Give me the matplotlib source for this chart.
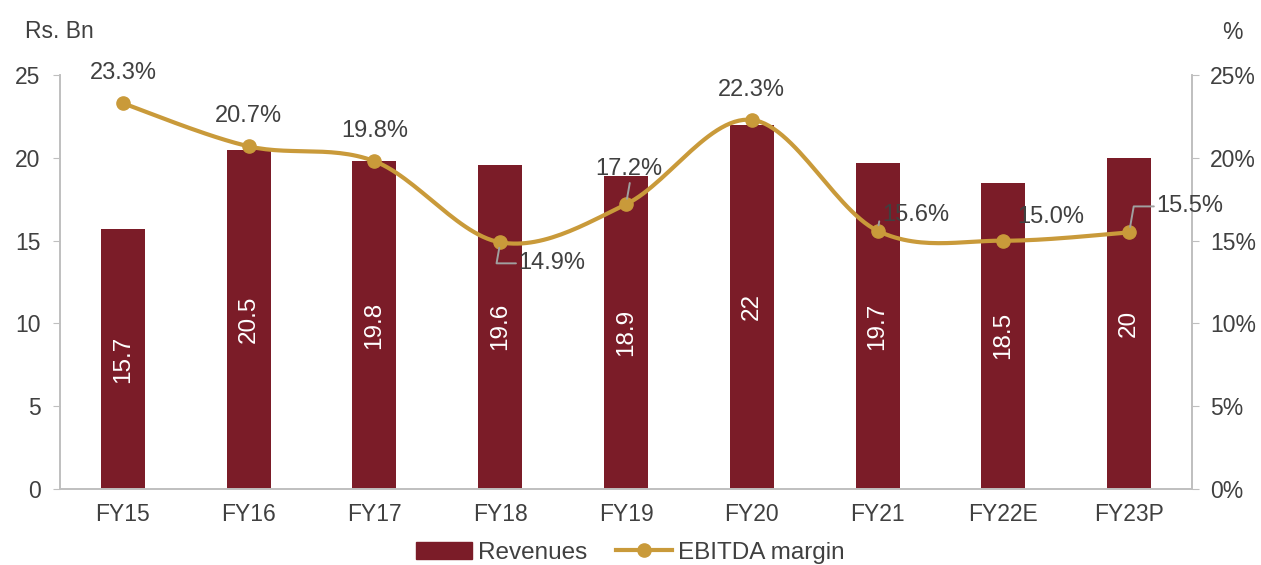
import numpy as np
import matplotlib.pyplot as plt
from matplotlib.lines import Line2D
from matplotlib.patches import Patch

plt.rcParams['font.family'] = ['Liberation Sans', 'DejaVu Sans']

years = ['FY15', 'FY16', 'FY17', 'FY18', 'FY19', 'FY20', 'FY21', 'FY22E', 'FY23P']
revenues = [15.7, 20.5, 19.8, 19.6, 18.9, 22, 19.7, 18.5, 20]
ebitda_margin = [23.3, 20.7, 19.8, 14.9, 17.2, 22.3, 15.6, 15.0, 15.5]
rev_labels = ['15.7', '20.5', '19.8', '19.6', '18.9', '22', '19.7', '18.5', '20']

bar_col = '#7B1C28'
line_col = '#C99A3A'
txt_col = '#404040'
grid_col = '#BFBFBF'


def smooth(x, y, n=30):
    # catmull-rom style curve through the points
    x = np.asarray(x, float)
    y = np.asarray(y, float)
    px = np.concatenate([[x[0]], x, [x[-1]]])
    py = np.concatenate([[y[0]], y, [y[-1]]])
    xs, ys = [], []
    for i in range(1, len(px) - 2):
        p0, p1, p2, p3 = (np.array([px[j], py[j]]) for j in (i - 1, i, i + 1, i + 2))
        c1 = p1 + (p2 - p0) / 6
        c2 = p2 - (p3 - p1) / 6
        t = np.linspace(0, 1, n)[:, None]
        b = ((1 - t) ** 3) * p1 + 3 * ((1 - t) ** 2) * t * c1 + 3 * (1 - t) * t ** 2 * c2 + t ** 3 * p2
        xs.append(b[:, 0])
        ys.append(b[:, 1])
    return np.concatenate(xs), np.concatenate(ys)


fig = plt.figure(figsize=(12.61, 5.65), dpi=100)
ax = fig.add_axes([0.0476, 0.1345, 0.8977, 0.7325])
ax2 = ax.twinx()

x = np.arange(len(years))
ax.bar(x, revenues, width=0.35, color=bar_col, zorder=2)
for xi, v, lab in zip(x, revenues, rev_labels):
    ax.text(xi, v / 2, lab, rotation=90, ha='center', va='center',
            color='white', fontsize=17.5)

ax.set_xlim(-0.5, len(years) - 0.5)
ax.set_ylim(0, 25)
ax.set_yticks(range(0, 26, 5))
ax.set_xticks(x)
ax.set_xticklabels(years)

ax2.set_ylim(0, 25)
ax2.set_yticks(range(0, 26, 5))
ax2.set_yticklabels([f'{v}%' for v in range(0, 26, 5)])

sx, sy = smooth(x, ebitda_margin)
ax2.plot(sx, sy, color=line_col, lw=3, solid_capstyle='round', zorder=3)
ax2.plot(x, ebitda_margin, 'o', color=line_col, ms=9.5, zorder=4)

# label offsets in pixels, and whether a leader line is drawn
offsets = [(0, 30), (0, 30), (0, 30), (52, -21), (3, 35), (0, 30), (38, 16), (47, 24), (61, 26)]
leaders = [False, False, False, True, True, False, True, False, True]
for xi, v, (dx, dy), lead in zip(x, ebitda_margin, offsets, leaders):
    arrow = None
    if lead:
        arrow = dict(arrowstyle='-', color='#A0A0A0', lw=1.4,
                     connectionstyle='angle,angleA=0,angleB=80,rad=0',
                     shrinkA=0, shrinkB=4)
    ax2.annotate(f'{v:.1f}%', (xi, v), xytext=(dx, dy), textcoords='offset pixels',
                 ha='center', va='center', fontsize=17, color=txt_col,
                 arrowprops=arrow, zorder=5)

for a in (ax, ax2):
    a.spines['top'].set_visible(False)
    for s in ('left', 'right', 'bottom'):
        a.spines[s].set_color(grid_col)
        a.spines[s].set_linewidth(1.2)
    a.tick_params(colors=grid_col, labelcolor=txt_col, labelsize=16.5, length=5)
ax.tick_params(axis='x', length=0, pad=10)
ax.tick_params(axis='y', pad=9)
ax2.tick_params(axis='y', pad=8)

fig.text(0.02, 0.945, 'Rs. Bn', fontsize=16.5, color=txt_col, va='center')
fig.text(0.977, 0.943, '%', fontsize=16.5, color=txt_col, va='center', ha='center')

handles = [Patch(color=bar_col),
           Line2D([0], [0], color=line_col, lw=3, marker='o', ms=9.5)]
fig.legend(handles, ['Revenues', 'EBITDA margin'], loc='center',
           bbox_to_anchor=(0.5, 0.022), ncol=2, frameon=False, fontsize=17.5,
           labelcolor=txt_col, handlelength=2.3, handletextpad=0.25, columnspacing=1.2)

fig.savefig('out.png', dpi=100)
